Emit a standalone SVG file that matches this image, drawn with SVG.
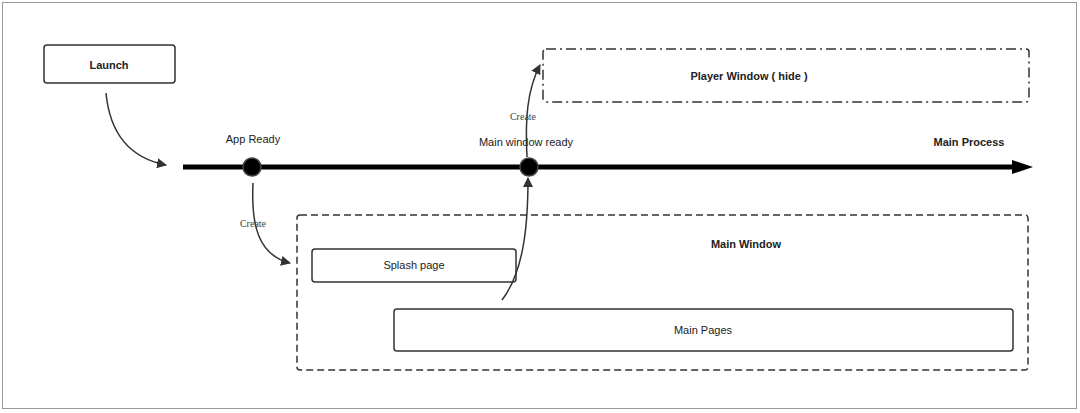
<svg xmlns="http://www.w3.org/2000/svg" width="1080" height="413" viewBox="0 0 1080 413">
<style>
.lbl{font-family:"Liberation Sans",Arial,sans-serif;font-size:11px;fill:#222;text-anchor:middle;dominant-baseline:middle}
.b{font-weight:bold}
.cr{font-family:"Liberation Serif","Times New Roman",serif;font-size:10px;fill:#444;text-anchor:middle;dominant-baseline:middle}
.box{fill:#fff;stroke:#333;stroke-width:1.5}
.conn{fill:none;stroke:#333;stroke-width:1.5}
</style>
<defs>
<marker id="ah" viewBox="0 0 10 10" refX="9" refY="5" markerWidth="10" markerHeight="10" markerUnits="userSpaceOnUse" orient="auto">
<path d="M0,0 L10,5 L0,10 z" fill="#333"/>
</marker>
</defs>
<rect x="0" y="0" width="1080" height="413" fill="#fff"/>
<rect x="2.5" y="2.5" width="1074" height="406" fill="none" stroke="#999" stroke-width="1"/>

<g id="timeline">
<line x1="183" y1="167" x2="1015" y2="167" stroke="#000" stroke-width="5"/>
<path d="M1012,160 L1033,167 L1012,174 z" fill="#000"/>
<text class="lbl b" x="969" y="143">Main Process</text>
</g>

<g id="app-ready">
<circle cx="252" cy="167" r="9" fill="#000" stroke="#444" stroke-width="1.5"/>
<text class="lbl" x="253" y="140">App Ready</text>
</g>

<g id="main-window-ready">
<circle cx="529" cy="167" r="9" fill="#000" stroke="#444" stroke-width="1.5"/>
<text class="lbl" x="526" y="143">Main window ready</text>
</g>

<g id="launch">
<rect class="box" x="44" y="45" width="131" height="38" rx="3"/>
<text class="lbl b" x="109" y="66">Launch</text>
</g>

<g id="player-window">
<rect x="543" y="49" width="486" height="53" rx="3" fill="none" stroke="#333" stroke-width="1.5" stroke-dasharray="10,4,2,4"/>
<text class="lbl b" x="749" y="77">Player Window ( hide )</text>
</g>

<g id="main-window">
<rect x="297" y="215" width="731" height="155" rx="3" fill="none" stroke="#333" stroke-width="1.5" stroke-dasharray="7,4"/>
<text class="lbl b" x="746" y="245">Main Window</text>
</g>

<g id="splash-page">
<rect class="box" x="312" y="249" width="204" height="33" rx="3"/>
<text class="lbl" x="414" y="266">Splash page</text>
</g>

<g id="main-pages">
<rect class="box" x="394" y="309" width="619" height="42" rx="3"/>
<text class="lbl" x="703" y="331">Main Pages</text>
</g>

<g id="connectors">
<path class="conn" d="M106,93 C110,135 130,158 166,165" marker-end="url(#ah)"/>
<path class="conn" d="M253,183 C251,225 258,255 290,263" marker-end="url(#ah)"/>
<text class="cr" x="253" y="225">Create</text>
<path class="conn" d="M502,300 C525,270 528,220 528,178" marker-end="url(#ah)"/>
<path class="conn" d="M527,157 C525,120 527,90 540,65" marker-end="url(#ah)"/>
<text class="cr" x="523" y="118">Create</text>
</g>
</svg>
